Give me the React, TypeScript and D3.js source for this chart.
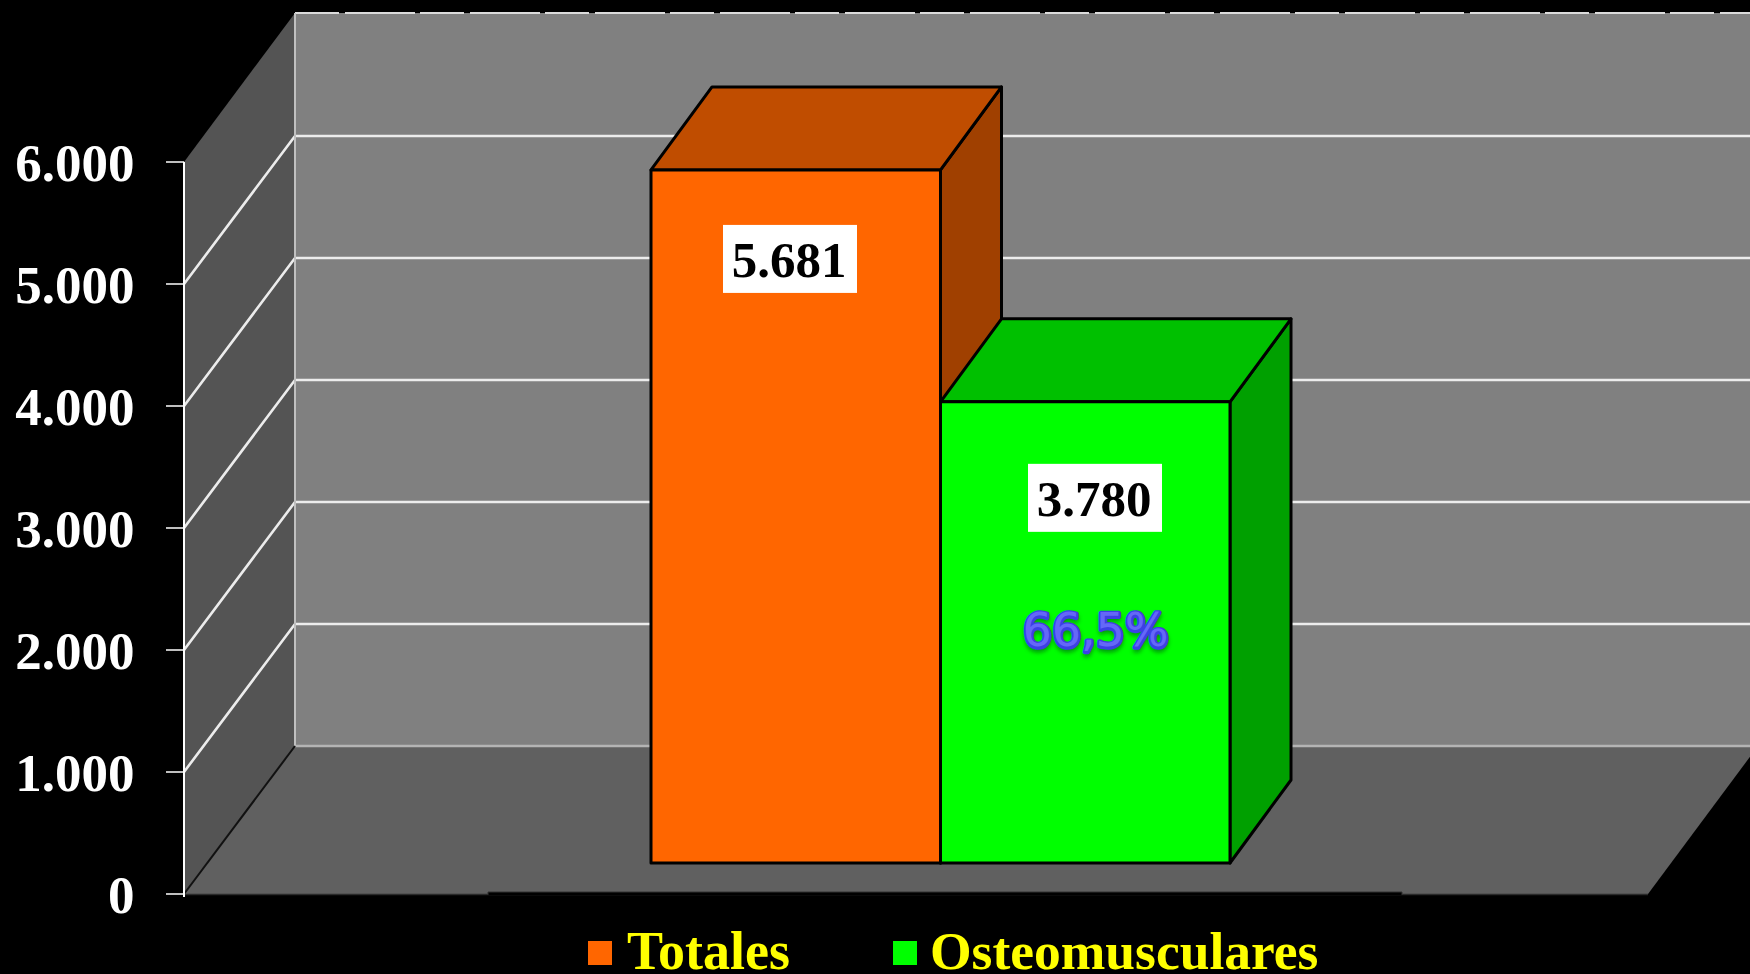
import * as d3 from 'd3';

const categories = ['Totales', 'Osteomusculares'];
const values = [5681, 3780];
const valueLabels = ['5.681', '3.780'];
const tickValues = [0, 1000, 2000, 3000, 4000, 5000, 6000];
const tickLabels = ['0', '1.000', '2.000', '3.000', '4.000', '5.000', '6.000'];
const percentLabel = '66,5%';

const COLORS = [
  { front: '#ff6600', top: '#c04d00', side: '#a04000' },
  { front: '#00ff00', top: '#00c000', side: '#00a000' },
];

const WIDTH = 1750;
const HEIGHT = 974;
const SERIF = '"Liberation Serif", serif';

// plot box, wall depth and bar depth
const plotLeft = 184;
const plotRight = 1648;
const wallDx = 110;
const wallDy = -148;
const barDx = 61;
const barDy = -83;
const baseOffset = 31;

const yScale = d3.scaleLinear().domain([0, 6000]).range([894, 162]);
const barHeight = (v: number) => yScale(0) - yScale(v);
const xScale = d3.scaleBand().domain(categories).range([651, 1230]).padding(0);

const poly = (pts: number[][]) => d3.line()(pts as [number, number][]) + 'Z';

export default function App() {
  const y0 = yScale(0);
  const backX = plotLeft + wallDx + 1;
  const backY0 = y0 + wallDy;
  const backTop = yScale(6000) + wallDy - 1;
  const barBase = y0 - baseOffset;
  const bw = xScale.bandwidth();

  return (
    <div style={{ position: 'fixed', left: 0, top: 0, width: WIDTH, height: HEIGHT, background: '#000', overflow: 'hidden' }}>
      <svg width={WIDTH} height={HEIGHT} style={{ display: 'block' }}>
        <defs>
          <filter id="soft" x="-10%" y="-20%" width="120%" height="150%">
            <feGaussianBlur stdDeviation="2" />
          </filter>
        </defs>

        {/* walls and floor */}
        <rect x={backX} y={backTop} width={WIDTH - backX} height={backY0 - backTop} fill="#808080" />
        <path d={poly([[plotLeft, yScale(6000)], [backX, backTop], [backX, backY0], [plotLeft, y0]])} fill="#545454" />
        <path d={poly([[plotLeft, y0], [backX, backY0], [plotRight + wallDx, backY0], [plotRight, y0]])} fill="#606060" />

        {/* top edge of the back wall */}
        <line x1={backX} x2={WIDTH} y1={backTop} y2={backTop} stroke="#dcdcdc" strokeWidth={2} strokeDasharray="44 6 70 5" />

        {/* grid */}
        {tickValues.filter((t) => t > 0 && t < 6000).map((t) => (
          <path
            key={t}
            d={`M${plotLeft},${yScale(t)}L${backX},${yScale(t) + wallDy}H${WIDTH}`}
            fill="none"
            stroke="#ececec"
            strokeWidth={2.6}
          />
        ))}
        <line x1={backX} x2={backX} y1={backTop} y2={backY0} stroke="#c0c0c0" strokeWidth={2} />
        <line x1={backX} x2={WIDTH} y1={backY0} y2={backY0} stroke="#b4b4b4" strokeWidth={2.5} />
        <line x1={plotLeft} x2={backX} y1={y0} y2={backY0} stroke="#111" strokeWidth={2} />
        <line x1={plotLeft} x2={plotRight} y1={y0 + 0.5} y2={y0 + 0.5} stroke="#2a2a2a" strokeWidth={1.5} />
        <path d={`M488,${y0 + 1}V${y0 - 2}H1402V${y0 + 1}`} fill="#000" stroke="#333" strokeWidth={1} />

        {/* axis */}
        <line x1={plotLeft} x2={plotLeft} y1={yScale(6000)} y2={y0 + 3} stroke="#fff" strokeWidth={2} />
        {tickValues.map((t, i) => (
          <g key={t}>
            <line x1={plotLeft - 18} x2={plotLeft} y1={yScale(t)} y2={yScale(t)} stroke="#fff" strokeWidth={1.5} />
            <text x={134.5} y={yScale(t) + 19} textAnchor="end" fontFamily={SERIF} fontWeight="bold" fontSize={53} fill="#fff">
              {tickLabels[i]}
            </text>
          </g>
        ))}

        {/* bars */}
        {categories.map((c, i) => {
          const x = xScale(c) as number;
          const top = barBase - barHeight(values[i]);
          return (
            <g key={c} stroke="#000" strokeWidth={3} strokeLinejoin="round">
              <path d={poly([[x + bw, top], [x + bw + barDx, top + barDy], [x + bw + barDx, barBase + barDy], [x + bw, barBase]])} fill={COLORS[i].side} />
              <path d={poly([[x, top], [x + barDx, top + barDy], [x + bw + barDx, top + barDy], [x + bw, top]])} fill={COLORS[i].top} />
              <rect x={x} y={top} width={bw} height={barBase - top} fill={COLORS[i].front} />
            </g>
          );
        })}

        {/* value labels */}
        {categories.map((c, i) => {
          const cx = i === 0 ? 790 : 1095;
          const top = barBase - barHeight(values[i]) + (i === 0 ? 55 : 62);
          return (
            <g key={c}>
              <rect x={cx - 67} y={top} width={134} height={68} fill="#fff" />
              <text x={cx - 1} y={top + 52} textAnchor="middle" fontFamily={SERIF} fontWeight="bold" fontSize={51} fill="#000">
                {valueLabels[i]}
              </text>
            </g>
          );
        })}

        {/* percent, rounded glossy text */}
        <g fontFamily='"DejaVu Sans", sans-serif' fontSize={46} textAnchor="middle" strokeLinejoin="round" strokeLinecap="round">
          <text x={1096} y={650} fill="#00800f" stroke="#00800f" strokeWidth={4} filter="url(#soft)" opacity={0.8}>{percentLabel}</text>
          <text x={1096} y={647} fill="#3c40e4" stroke="#3c40e4" strokeWidth={4.5}>{percentLabel}</text>
          <text x={1095.5} y={646} fill="#6468f8" stroke="none">{percentLabel}</text>
        </g>

        {/* legend */}
        <rect x={588} y={941} width={24} height={24} fill={COLORS[0].front} />
        <text x={627} y={969} fontFamily={SERIF} fontWeight="bold" fontSize={54} fill="#ffff00">{categories[0]}</text>
        <rect x={893} y={941} width={24} height={24} fill={COLORS[1].front} />
        <text x={930} y={969} fontFamily={SERIF} fontWeight="bold" fontSize={53.5} fill="#ffff00">{categories[1]}</text>
      </svg>
    </div>
  );
}
